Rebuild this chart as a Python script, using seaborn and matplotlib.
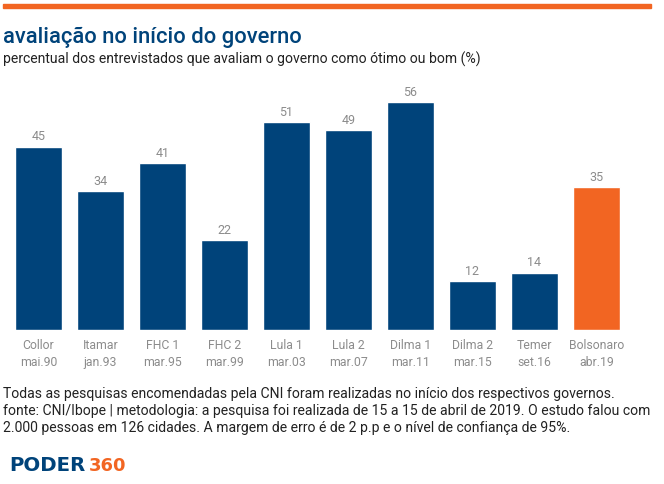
"""avaliacao no inicio do governo - bar chart"""
import matplotlib
matplotlib.use("Agg")
import matplotlib.pyplot as plt
import seaborn as sns
import pandas as pd

governos = ["Collor", "Itamar", "FHC 1", "FHC 2", "Lula 1", "Lula 2", "Dilma 1", "Dilma 2", "Temer", "Bolsonaro"]
datas = ["mai.90", "jan.93", "mar.95", "mar.99", "mar.03", "mar.07", "mar.11", "mar.15", "set.16", "abr.19"]
valores = [45, 34, 41, 22, 51, 49, 56, 12, 14, 35]

AZUL = "#00437a"
LARANJA = "#f26522"
CINZA = "#8c8c8c"
W, H = 664, 485

sns.set_theme(style="white")
plt.rcParams["font.family"] = ["Roboto", "DejaVu Sans"]

df = pd.DataFrame({"governo": governos, "valor": valores})
cores = [LARANJA if g == "Bolsonaro" else AZUL for g in governos]

fig = plt.figure(figsize=(W / 100, H / 100), dpi=100)
ax = fig.add_axes([7.4 / W, 1 - 330.5 / H, 620 / W, 243.9 / H])

sns.barplot(data=df, x="governo", y="valor", hue="governo", palette=cores,
            legend=False, width=0.752, saturation=1, ax=ax)
ax.set_xlim(-0.5, 9.5)
ax.set_ylim(0, 60)
ax.set_xlabel("")
ax.set_ylabel("")
ax.set_yticks([])
ax.set_xticks(range(len(governos)))
ax.set_xticklabels([f"{g}\n{d}" for g, d in zip(governos, datas)],
                   fontsize=8.8, color=CINZA, linespacing=1.38)
ax.tick_params(axis="x", length=0, pad=6)
sns.despine(ax=ax, left=True, bottom=True)

for c in ax.containers:
    ax.bar_label(c, padding=3, fontsize=9, color=CINZA)

# barra do topo
fig.patches.append(plt.Rectangle((3 / W, 1 - 9 / H), 648 / W, 4 / H, color=LARANJA,
                                 transform=fig.transFigure))

fig.text(3 / W, 1 - 37 / H, "avaliação no início do governo", fontsize=15.8, fontweight="medium",
         color=AZUL, va="center", ha="left")
fig.text(3 / W, 1 - 59.5 / H, "percentual dos entrevistados que avaliam o governo como ótimo ou bom (%)",
         fontsize=10.05, color="#222222", va="center", ha="left")

rodape = ["Todas as pesquisas encomendadas pela CNI foram realizadas no início dos respectivos governos.",
          "fonte: CNI/Ibope | metodologia: a pesquisa foi realizada de 15 a 15 de abril de 2019. O estudo falou com",
          "2.000 pessoas em 126 cidades. A margem de erro é de 2 p.p e o nível de confiança de 95%."]
for y, linha in zip([394, 411, 428], rodape):
    fig.text(3 / W, 1 - y / H, linha, fontsize=10.05, color="#222222", va="center", ha="left")

# logo
fig.text(9 / W, 1 - 466 / H, "PODER", fontsize=14.2, fontweight="bold", family="DejaVu Sans",
         color=AZUL, va="center", ha="left")
fig.text(89 / W, 1 - 466 / H, "360", fontsize=13, fontweight="bold", family="DejaVu Sans",
         color=LARANJA, va="center", ha="left")

fig.savefig("out.png", dpi=100)
